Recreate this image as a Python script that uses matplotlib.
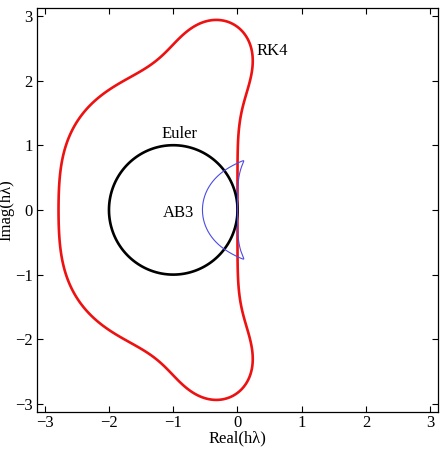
import numpy as np
import matplotlib
matplotlib.use("Agg")
import matplotlib.pyplot as plt

# Stability polynomials (coefficients of z^0, z^1, ...)
rk4_coeffs = [1.0, 1.0, 1/2, 1/6, 1/24]
euler_coeffs = [1.0, 1.0]
# AB3: rho(w) = w^3 - w^2 ; sigma(w) = (23 w^2 - 16 w + 5)/12  (highest power first)
ab3_rho = [1.0, -1.0, 0.0, 0.0]
ab3_sigma = [0.0, 23/12, -16/12, 5/12]

tick_vals = [-3, -2, -1, 0, 1, 2, 3]
labels = {"RK4": (0.54, 2.45), "Euler": (-0.9, 1.17), "AB3": (-0.92, -0.05)}

plt.rcParams['font.family'] = ['Liberation Serif', 'DejaVu Serif']

fig = plt.figure(figsize=(4.46, 4.49), dpi=100)
ax = fig.add_axes([0.083, 0.083, 0.899, 0.899])

x = np.linspace(-3.12, 3.12, 500)
y = np.linspace(-3.12, 3.12, 500)
X, Y = np.meshgrid(x, y)
Z = X + 1j * Y

def poly(coeffs, z):
    return sum(c * z**k for k, c in enumerate(coeffs))

ax.contour(X, Y, np.abs(poly(rk4_coeffs, Z)), levels=[1.0], colors=['#ee1111'], linewidths=1.9)
ax.contour(X, Y, np.abs(poly(euler_coeffs, Z)), levels=[1.0], colors=['black'], linewidths=1.9)

theta = np.linspace(0, 2*np.pi, 800)
w = np.exp(1j * theta)
zab3 = np.polyval(ab3_rho, w) / np.polyval(ab3_sigma, w)
ax.plot(zab3.real, zab3.imag, color='#4b4be6', lw=0.8)

for name, (lx, ly) in labels.items():
    ax.text(lx, ly, name, ha='center', va='center', fontsize=12)

ax.set_xlim(-3.12, 3.12)
ax.set_ylim(-3.12, 3.12)
ax.set_xticks(tick_vals)
ax.set_yticks(tick_vals)
ax.set_xticklabels([f"\u2212{abs(v)}" if v < 0 else str(v) for v in tick_vals])
ax.set_yticklabels([f"\u2212{abs(v)}" if v < 0 else str(v) for v in tick_vals])
ax.tick_params(direction='in', top=True, right=True, labelsize=12, length=4, width=0.8)
ax.tick_params(axis='x', pad=2)
ax.tick_params(axis='y', pad=3)
for s in ax.spines.values():
    s.set_linewidth(0.9)
ax.set_xlabel("Real(h\u03bb)", fontsize=12, labelpad=0)
ax.set_ylabel("Imag(h\u03bb)", fontsize=12)
ax.yaxis.set_label_coords(-0.056, 0.5)

fig.savefig("out.png", dpi=100)
